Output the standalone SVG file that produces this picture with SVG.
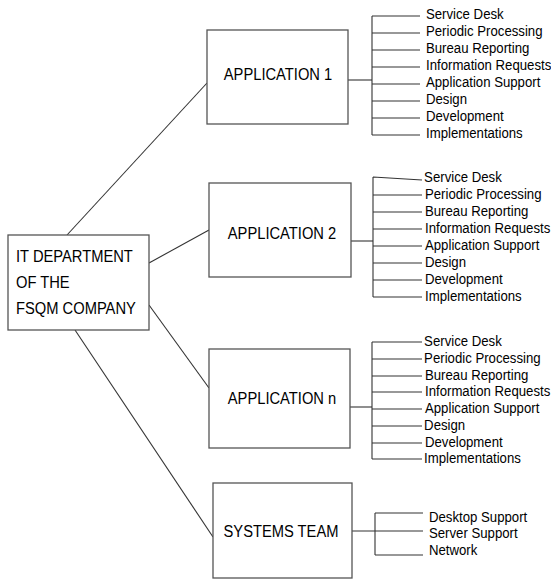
<svg xmlns="http://www.w3.org/2000/svg" width="551" height="581" viewBox="0 0 551 581">
<style>
.box{fill:#fff;stroke:#555;stroke-width:1.3}
.big{font-family:"Liberation Sans",Arial,sans-serif;font-size:16px;fill:#000}
.small{font-family:"Liberation Sans",Arial,sans-serif;font-size:15px;fill:#000}
.ln{stroke:#333;stroke-width:1.1;fill:none}
</style>
<rect width="551" height="581" fill="#fff"/>
<g id="connectors">
<path class="ln" d="M67 235 L207 83"/>
<path class="ln" d="M149 263 L209 230"/>
<path class="ln" d="M149 305 L209 388"/>
<path class="ln" d="M75 330 L213 537"/>
<path class="ln" d="M348 80 H372"/>
<path class="ln" d="M372 16 V135 M372 16 H420 M372 33 H420 M372 50 H420 M372 67 H420 M372 84 H420 M372 101 H420 M372 118 H420 M372 135 H420"/>
<path class="ln" d="M351 241 H373"/>
<path class="ln" d="M373 177 V297 M373 177 L422 180 M373 195 H422 M373 212 H422 M373 229 H422 M373 246 H422 M373 263 H422 M373 280 H422 M373 297 H422"/>
<path class="ln" d="M350 407 H372"/>
<path class="ln" d="M372 342 V459 M372 342 H422 M372 359 H422 M372 376 H422 M372 392 H422 M372 409 H422 M372 426 H422 M372 443 H422 M372 459 H422"/>
<path class="ln" d="M352 531 H423"/>
<path class="ln" d="M375 513 V555 M375 513 H423 M375 555 H423"/>
</g>
<g id="root">
<rect class="box" x="8" y="235" width="141" height="95"/>
<g transform="translate(16,0) scale(0.92,1)">
<text class="big" x="0" y="262">IT DEPARTMENT</text>
<text class="big" x="0" y="288">OF THE</text>
<text class="big" x="0" y="314">FSQM COMPANY</text>
</g>
</g>
<g id="app1">
<rect class="box" x="207" y="30" width="141" height="94"/>
<text class="big" transform="translate(278,0) scale(0.92,1)" x="0" y="80" text-anchor="middle">APPLICATION 1</text>
</g>
<g id="app1-items" transform="translate(426,0) scale(0.88,1)">
<text class="small" x="0" y="19">Service Desk</text>
<text class="small" x="0" y="36">Periodic Processing</text>
<text class="small" x="0" y="53">Bureau Reporting</text>
<text class="small" x="0" y="70">Information Requests</text>
<text class="small" x="0" y="87">Application Support</text>
<text class="small" x="0" y="104">Design</text>
<text class="small" x="0" y="121">Development</text>
<text class="small" x="0" y="138">Implementations</text>
</g>
<g id="app2">
<rect class="box" x="209" y="183" width="142" height="94"/>
<text class="big" transform="translate(282,0) scale(0.92,1)" x="0" y="239" text-anchor="middle">APPLICATION 2</text>
</g>
<g id="app2-items" transform="translate(425,0) scale(0.88,1)">
<text class="small" x="-1" y="182">Service Desk</text>
<text class="small" x="0" y="199">Periodic Processing</text>
<text class="small" x="0" y="216">Bureau Reporting</text>
<text class="small" x="0" y="233">Information Requests</text>
<text class="small" x="0" y="250">Application Support</text>
<text class="small" x="0" y="267">Design</text>
<text class="small" x="0" y="284">Development</text>
<text class="small" x="0" y="301">Implementations</text>
</g>
<g id="appn">
<rect class="box" x="209" y="349" width="141" height="99"/>
<text class="big" transform="translate(282,0) scale(0.92,1)" x="0" y="404" text-anchor="middle">APPLICATION n</text>
</g>
<g id="appn-items" transform="translate(425,0) scale(0.88,1)">
<text class="small" x="-1" y="346">Service Desk</text>
<text class="small" x="-1" y="363">Periodic Processing</text>
<text class="small" x="0" y="380">Bureau Reporting</text>
<text class="small" x="0" y="396">Information Requests</text>
<text class="small" x="0" y="413">Application Support</text>
<text class="small" x="-1" y="430">Design</text>
<text class="small" x="0" y="447">Development</text>
<text class="small" x="-1" y="463">Implementations</text>
</g>
<g id="systems">
<rect class="box" x="213" y="483" width="139" height="95"/>
<text class="big" transform="translate(281,0) scale(0.92,1)" x="0" y="537" text-anchor="middle">SYSTEMS TEAM</text>
</g>
<g id="systems-items" transform="translate(429,0) scale(0.88,1)">
<text class="small" x="0" y="522">Desktop Support</text>
<text class="small" x="0" y="538">Server Support</text>
<text class="small" x="0" y="555">Network</text>
</g>
</svg>
